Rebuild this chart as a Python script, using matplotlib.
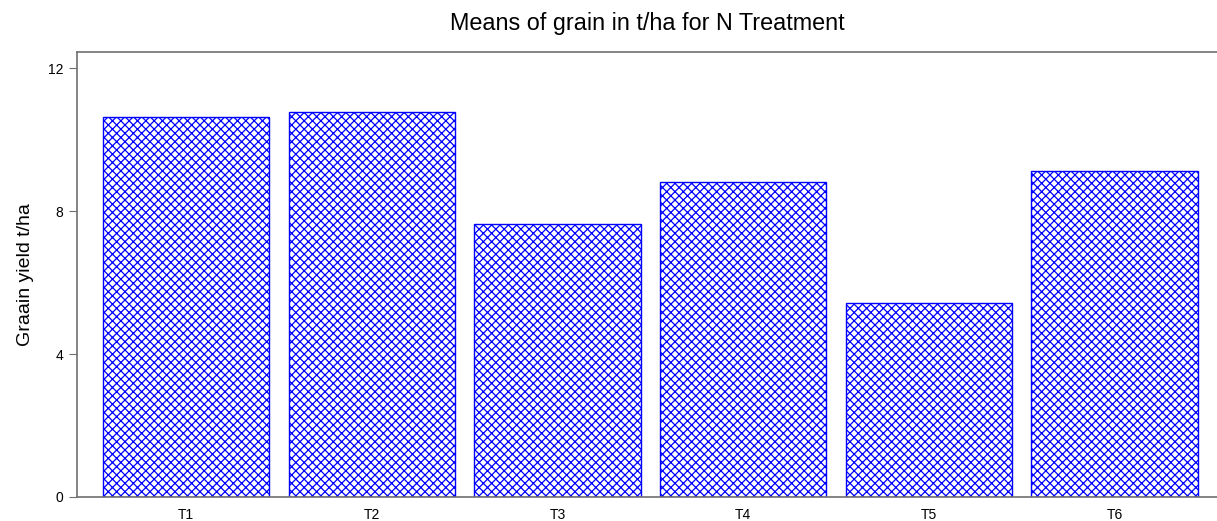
import numpy as np
import matplotlib
matplotlib.use("Agg")
import matplotlib.pyplot as plt

plt.rcParams['font.family'] = ['Liberation Sans', 'DejaVu Sans']
plt.rcParams['hatch.linewidth'] = 0.9

# data
treatments = ["T1", "T2", "T3", "T4", "T5", "T6"]
grain_yield = [10.64, 10.77, 7.65, 8.81, 5.43, 9.12]
y_ticks = [0, 4, 8, 12]

fig = plt.figure(figsize=(12.17, 5.21), dpi=100)
ax = fig.add_axes([77/1217, 24/521, 1140/1217, 445/521])

x = np.arange(len(treatments))
ax.bar(x, grain_yield, width=0.895, color='white', edgecolor='#0000ff',
       hatch='xxxx', linewidth=1.0)

ax.set_xlim(-0.587, 5.552)
ax.set_ylim(0, 12.45)
ax.set_yticks(y_ticks)
ax.set_xticks(x)
ax.set_xticklabels(treatments)

ax.spines['right'].set_visible(False)
for s in ['left', 'top', 'bottom']:
    ax.spines[s].set_color('#707070')
    ax.spines[s].set_linewidth(1.2)

ax.tick_params(axis='y', direction='out', length=6, color='#707070',
               labelsize=10, pad=4)
ax.tick_params(axis='x', length=0, labelsize=10, pad=8)

ax.set_ylabel("Graain yield t/ha", fontsize=14, labelpad=10)
ax.set_title("Means of grain in t/ha for N Treatment", fontsize=16.8, pad=16)

fig.savefig("out.png", dpi=100)
